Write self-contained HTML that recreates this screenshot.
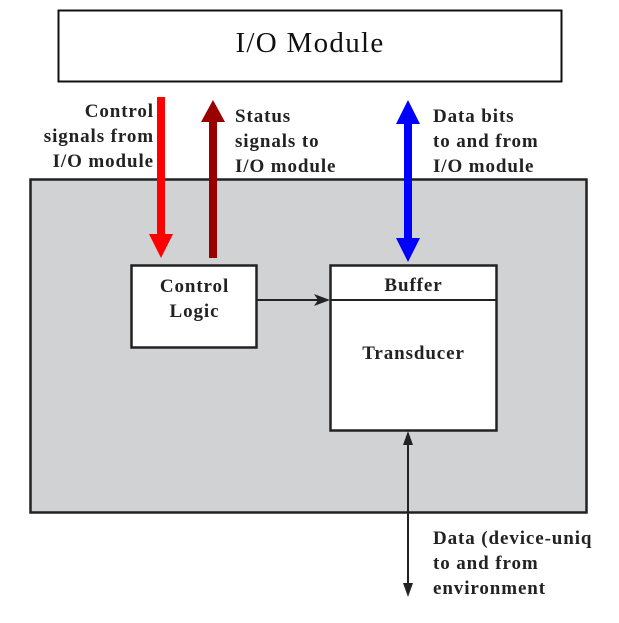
<!DOCTYPE html><html><head><style>
body{margin:0;width:619px;height:623px;background:#fff;position:relative;overflow:hidden;font-family:"Liberation Serif",serif}
.t{position:absolute;font-weight:bold;font-size:19px;letter-spacing:0.9px;line-height:25px;color:#222;white-space:nowrap}
</style></head><body>
<svg width="619" height="623" style="position:absolute;left:0;top:0">
<rect x="58.5" y="10.5" width="503" height="71" fill="#fff" stroke="#111" stroke-width="2"/>
<rect x="30.5" y="179.5" width="556" height="333" fill="#d1d2d4" stroke="#222" stroke-width="2.5"/>
<rect x="131.5" y="265.5" width="125" height="82" fill="#fff" stroke="#222" stroke-width="2.5"/>
<rect x="330.5" y="265.5" width="166" height="165" fill="#fff" stroke="#222" stroke-width="2.5"/>
<line x1="330" y1="300" x2="497" y2="300" stroke="#222" stroke-width="2"/>
<line x1="257" y1="300" x2="318" y2="300" stroke="#222" stroke-width="2"/>
<polygon points="330,300 314,294 318,300 314,306" fill="#222"/>
<rect x="157" y="97" width="8" height="140" fill="#f00"/>
<polygon points="149,234 173,234 161,258" fill="#f00"/>
<rect x="209" y="118" width="8" height="140" fill="#990000"/>
<polygon points="201,122 225,122 213,100" fill="#990000"/>
<rect x="404" y="120" width="8" height="122" fill="#00f"/>
<polygon points="396,124 420,124 408,100" fill="#00f"/>
<polygon points="396,238 420,238 408,262" fill="#00f"/>
<line x1="408" y1="440" x2="408" y2="588" stroke="#222" stroke-width="2"/>
<polygon points="408,431 403,445 413,445" fill="#222"/>
<polygon points="408,597 403,583 413,583" fill="#222"/>
</svg>
<div style="position:absolute;left:58px;top:27px;width:504px;text-align:center;font-size:29px;letter-spacing:1.3px;color:#111">I/O Module</div>
<div class="t" style="left:20px;top:99px;width:134px;text-align:right">Control<br>signals from<br>I/O module</div>
<div class="t" style="left:235px;top:104px">Status<br>signals to<br>I/O module</div>
<div class="t" style="left:433px;top:104px">Data bits<br>to and from<br>I/O module</div>
<div class="t" style="left:131px;top:274px;width:127px;text-align:center">Control<br>Logic</div>
<div class="t" style="left:330px;top:273px;width:167px;text-align:center">Buffer</div>
<div class="t" style="left:330px;top:341px;width:167px;text-align:center">Transducer</div>
<div class="t" style="left:433px;top:526px">Data (device-uniq<br>to and from<br>environment</div>
</body></html>
